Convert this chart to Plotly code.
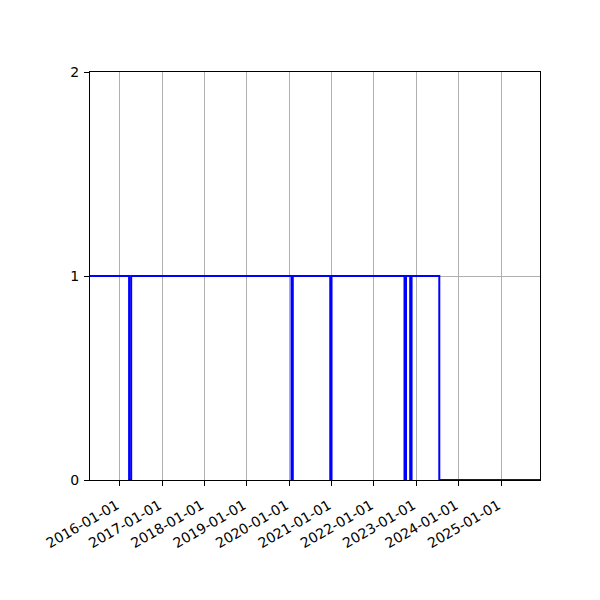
import plotly.graph_objects as go

# Step data: value holds until next date
dates = [
    "2015-04-20", "2016-03-22", "2016-04-09",
    "2020-01-21", "2020-02-01",
    "2020-12-20", "2020-12-31",
    "2022-09-21", "2022-10-04",
    "2022-11-09", "2022-11-21",
    "2023-07-18", "2025-12-02",
]
values = [1, 0, 1, 0, 1, 0, 1, 0, 1, 0, 1, 0, 0]

tick_dates = [f"{y}-01-01" for y in range(2016, 2026)]
tick_labels = tick_dates
y_ticks = [0, 1, 2]

fig = go.Figure()
fig.add_trace(go.Scatter(
    x=dates, y=values, mode="lines", line_shape="hv",
    line=dict(color="#0000ff", width=2), showlegend=False,
))

font = dict(family="DejaVu Sans", size=14, color="black")
fig.update_layout(
    width=600, height=600,
    margin=dict(l=82, r=68, t=64, b=128),
    paper_bgcolor="white", plot_bgcolor="white",
    font=font,
)
fig.update_xaxes(
    range=["2015-04-20", "2025-12-02"],
    tickvals=tick_dates, ticktext=tick_labels, tickangle=-30,
    showgrid=True, gridcolor="#b0b0b0", gridwidth=1,
    showline=True, linecolor="black", linewidth=1, mirror=True,
    ticks="outside", ticklen=5, tickwidth=1, tickcolor="black",
    zeroline=False, layer="below traces",
    ticklabelshift=-3, ticklabelstandoff=6,
)
fig.update_yaxes(
    range=[0, 2], tickvals=y_ticks, ticktext=[str(v) for v in y_ticks],
    showgrid=True, gridcolor="#b0b0b0", gridwidth=1,
    showline=True, linecolor="black", linewidth=1, mirror=True,
    ticks="outside", ticklen=5, tickwidth=1, tickcolor="black",
    zeroline=False, ticklabelstandoff=2,
)
fig.write_html("out.html")
